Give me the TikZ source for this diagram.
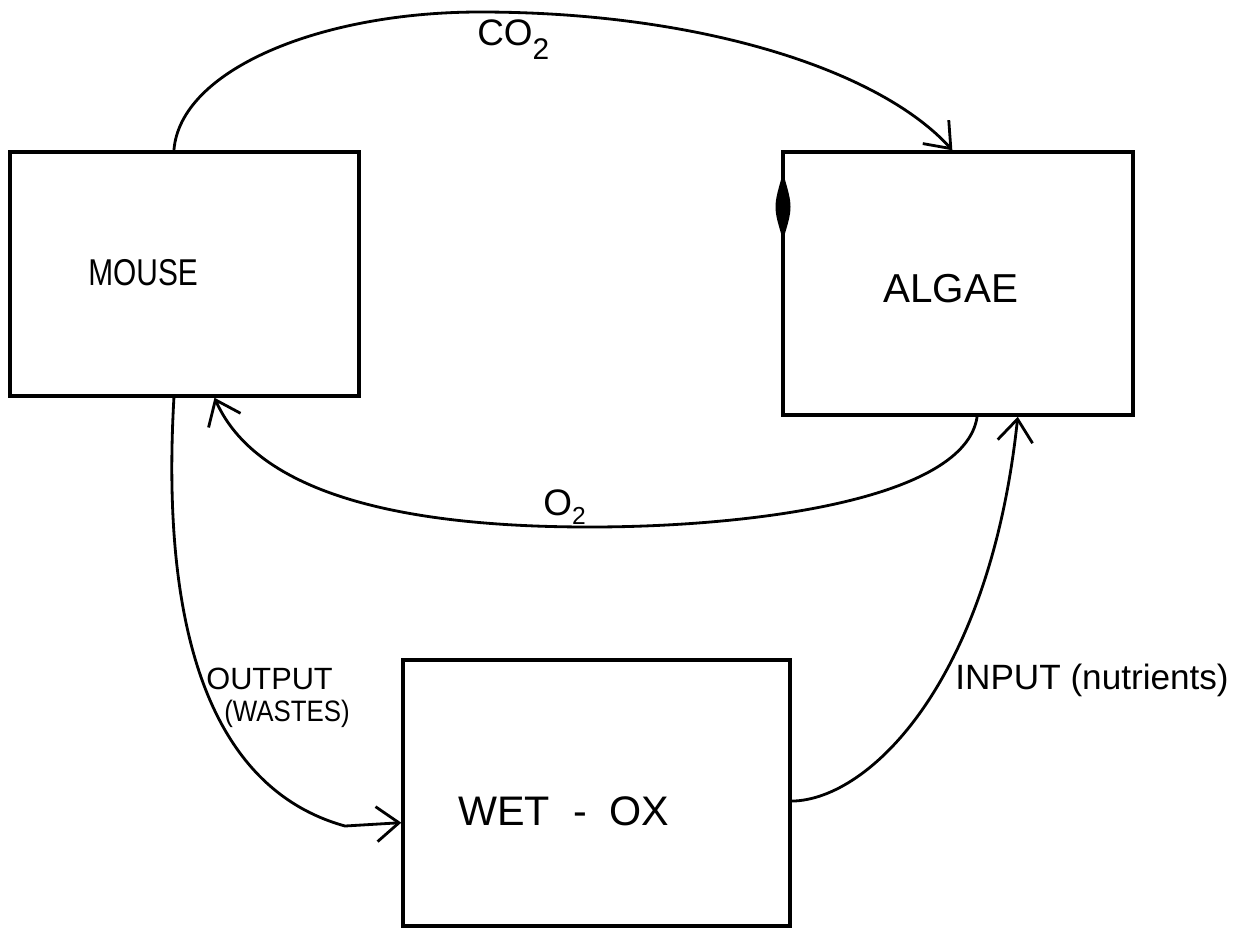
\documentclass[tikz,border=0pt]{standalone}
\usepackage{fontspec}
\setmainfont{Liberation Sans}
\usetikzlibrary{arrows.meta,calc}
\begin{document}
\begin{tikzpicture}[x=0.02cm,y=-0.02cm,
  box/.style={draw,line width=2pt,rectangle,inner sep=0pt},
  flow/.style={line width=1.6pt,-{Straight Barb[length=4.5mm,width=7mm]}},
  lbl/.style={inner sep=0pt,anchor=base west}]
\useasboundingbox (0,0) rectangle (1260,934);
% boxes
\node[box,minimum width=6.98cm,minimum height=4.88cm] (mouse) at (184.5,274) {};
\node[box,minimum width=7.0cm,minimum height=5.26cm] (algae) at (958,283.5) {};
\node[box,minimum width=7.74cm,minimum height=5.32cm] (wetox) at (596.5,793) {};
% thick mark on algae left edge
\fill (783,173) .. controls (793,207) .. (783,240) .. controls (773,207) .. (783,173);
% box texts
\node[lbl,font=\fontsize{17}{20}\selectfont] (mousel) at (88,285) {\scalebox{1}[1.25]{MOUSE}};
\node[lbl,font=\fontsize{23}{26}\selectfont] (algael) at (883,302) {ALGAE};
\node[lbl,font=\fontsize{23.5}{26}\selectfont] (wetoxl) at (458,825) {WET~~-~~OX};
% connector labels
\node[lbl,font=\fontsize{21}{24}\selectfont] (co2) at (477,45) {CO\raisebox{-0.4em}{\fontsize{17}{17}\selectfont 2}};
\node[lbl,font=\fontsize{21}{24}\selectfont] (o2) at (543,515) {O\raisebox{-0.25em}{\fontsize{14}{14}\selectfont 2}};
\node[lbl,font=\fontsize{17.5}{20}\selectfont] (outl1) at (206,689) {OUTPUT};
\node[lbl,font=\fontsize{16}{20}\selectfont] (outl2) at (224,721) {\scalebox{0.92}[1.05]{(WASTES)}};
\node[lbl,font=\fontsize{20}{24}\selectfont] (inl) at (955,689) {INPUT (nutrients)};
% connectors
\draw[flow] ($(mouse.north west)!0.47!(mouse.north east)$) .. controls (180,70) and (320,12) .. (480,12)
  .. controls (700,12) and (880,70) .. ($(algae.north west)!0.484!(algae.north east)$);
\draw[flow] ($(algae.south west)!0.554!(algae.south east)$) .. controls (965,500) and (750,527) .. (590,527)
  .. controls (420,527) and (260,500) .. ($(mouse.south west)!0.585!(mouse.south east)$);
\draw[flow] ($(mouse.south west)!0.47!(mouse.south east)$) .. controls (160,640) and (215,790) .. (345,826)
  -- ($(wetox.north west)!0.61!(wetox.south west)$);
\draw[flow] ($(wetox.north east)!0.53!(wetox.south east)$) .. controls (870,800) and (990,680)
  .. ($(algae.south west)!0.669!(algae.south east)$);
\end{tikzpicture}
\end{document}
